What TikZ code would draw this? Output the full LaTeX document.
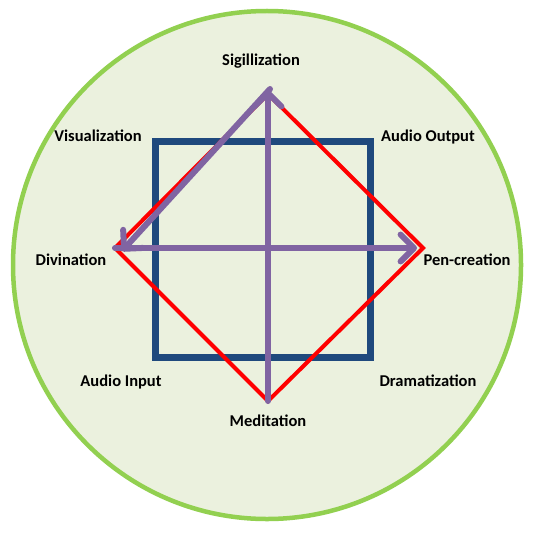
\documentclass[tikz,border=0pt]{standalone}
\usepackage{fontspec}
\setmainfont{Carlito}
\usetikzlibrary{arrows.meta}
\definecolor{WheelFill}{HTML}{EBF1DE}
\definecolor{WheelRim}{HTML}{92D050}
\definecolor{SquareBlue}{HTML}{1F497D}
\definecolor{DiamondRed}{HTML}{FF0000}
\definecolor{ArrowPurple}{HTML}{8064A2}

\begin{document}
\begin{tikzpicture}[x=1pt,y=-1pt,
    sense/.style={font=\bfseries\fontsize{16.5}{18}\selectfont, anchor=base, inner sep=0pt},
    flow/.style={ArrowPurple, line width=6pt, line cap=round, -{Straight Barb[angle=90:19pt 0, round]}}]
    \useasboundingbox (0,0) rectangle (534,532);
    \fill[white] (0,0) rectangle (534,532);
    \draw[WheelRim, fill=WheelFill, line width=4.5pt] (267,265) circle (254pt);
    \draw[SquareBlue, line width=7pt] (155,141) rectangle (370,357);
    % diamond corners
    \coordinate (sig) at (268,94);
    \coordinate (pen) at (423,248);
    \coordinate (med) at (268,401);
    \coordinate (div) at (115,248);
    \draw[DiamondRed, line width=4pt, line join=miter] (sig) -- (pen) -- (med) -- (div) -- cycle;
    \draw[flow] (med) -- ([yshift=4pt]sig);
    \draw[flow] (div) -- ([xshift=-6pt]pen);
    \draw[flow] ([xshift=2pt,yshift=5pt]sig) -- ([xshift=7pt,yshift=-3pt]div);
    \node[sense] (sigillization) at (261,66) {Sigillization};
    \node[sense] (visualization) at (98,141.5) {Visualization};
    \node[sense] (audioout) at (428,141) {Audio Output};
    \node[sense] (divination) at (71,265) {Divination};
    \node[sense] (pencreation) at (467,265) {Pen-creation};
    \node[sense] (audioin) at (121,386.5) {Audio Input};
    \node[sense] (dramatization) at (428,386.5) {Dramatization};
    \node[sense] (meditation) at (268,426) {Meditation};
  \end{tikzpicture}
\end{document}
